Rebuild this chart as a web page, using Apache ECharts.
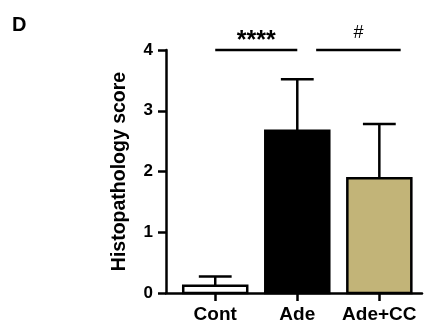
<!DOCTYPE html>
<html>
<head>
<meta charset="utf-8">
<script src="https://cdn.jsdelivr.net/npm/echarts@6/dist/echarts.min.js"></script>
<style>
html,body{margin:0;padding:0;background:#fff;}
#chart{width:424px;height:324px;}
</style>
</head>
<body>
<div id="chart"></div>
<script>
// ---- data ----
var categories = ['Cont', 'Ade', 'Ade+CC'];
var meanScore = [0.12, 2.67, 1.89];
var errorUpper = [0.27, 3.52, 2.78];
var yTicks = [0, 1, 2, 3, 4];
var sigLabels = ['****', '#'];
var sigStart = [0, 1.23];
var sigEnd = [1, 2.26];
var sigLevel = [4, 4];

// ---- styles ----
var FONT = "'Liberation Sans', Arial, Helvetica, sans-serif";
var barFills = ['#ffffff', '#000000', '#c2b478'];
var LW = 2.5;

var catIdx = categories.map(function (c, i) { return i; });
var barData = catIdx.map(function (i) { return [i, meanScore[i]]; });
var errData = catIdx.map(function (i) { return [i, meanScore[i], errorUpper[i]]; });
var sigData = sigLabels.map(function (l, i) { return [sigStart[i], sigEnd[i], sigLevel[i], i]; });

var chart = echarts.init(document.getElementById('chart'), null, {renderer: 'canvas'});
chart.setOption({
  animation: false,
  backgroundColor: '#ffffff',
  title: {
    text: 'D', left: 12, top: 15, padding: 0,
    textStyle: {fontFamily: FONT, fontWeight: 'bold', fontSize: 20, color: '#000'}
  },
  grid: {left: 166, right: 2, top: 50, bottom: 31, containLabel: false},
  xAxis: {
    type: 'value', min: -0.6, max: 2.52,
    axisLine: {show: true, onZero: false, lineStyle: {color: '#000', width: LW}},
    axisTick: {show: true, length: 8, lineStyle: {color: '#000', width: LW}, customValues: catIdx},
    axisLabel: {
      customValues: catIdx, margin: 12,
      fontFamily: FONT, fontWeight: 'bold', fontSize: 19, color: '#000',
      formatter: function (v) { return categories[Math.round(v)] || ''; }
    },
    splitLine: {show: false}
  },
  yAxis: {
    type: 'value', min: yTicks[0], max: yTicks[yTicks.length - 1], interval: 1,
    name: 'Histopathology score', nameLocation: 'middle', nameGap: 36,
    nameTextStyle: {fontFamily: FONT, fontWeight: 'bold', fontSize: 19.5, color: '#000'},
    axisLine: {show: true, onZero: false, lineStyle: {color: '#000', width: LW}},
    axisTick: {show: true, length: 8, lineStyle: {color: '#000', width: LW}},
    axisLabel: {margin: 13, fontFamily: FONT, fontWeight: 'bold', fontSize: 17, color: '#000'},
    splitLine: {show: false}
  },
  series: [
    {
      type: 'custom', name: 'bars', z: 2,
      data: barData,
      renderItem: function (params, api) {
        var x = api.value(0), v = api.value(1);
        var w = api.size([0.78, 0])[0];
        var p0 = api.coord([x, 0]);
        var p1 = api.coord([x, v]);
        return {
          type: 'rect',
          shape: {x: p0[0] - w / 2, y: p1[1], width: w, height: p0[1] - p1[1]},
          style: {fill: barFills[params.dataIndex], stroke: '#000', lineWidth: LW}
        };
      }
    },
    {
      type: 'custom', name: 'error', z: 3,
      data: errData,
      renderItem: function (params, api) {
        var x = api.value(0), m = api.value(1), u = api.value(2);
        var half = api.size([0.2, 0])[0];
        var pm = api.coord([x, m]);
        var pu = api.coord([x, u]);
        return {
          type: 'group',
          children: [
            {type: 'line', shape: {x1: pm[0], y1: pm[1], x2: pu[0], y2: pu[1]}, style: {stroke: '#000', lineWidth: LW}},
            {type: 'line', shape: {x1: pu[0] - half, y1: pu[1], x2: pu[0] + half, y2: pu[1]}, style: {stroke: '#000', lineWidth: LW}}
          ]
        };
      }
    },
    {
      type: 'custom', name: 'sig', z: 4, clip: false,
      data: sigData,
      renderItem: function (params, api) {
        var a = api.coord([api.value(0), api.value(2)]);
        var b = api.coord([api.value(1), api.value(2)]);
        var label = sigLabels[params.dataIndex];
        var isStar = label.indexOf('*') >= 0;
        return {
          type: 'group',
          children: [
            {type: 'line', shape: {x1: a[0], y1: a[1], x2: b[0], y2: b[1]}, style: {stroke: '#000', lineWidth: LW}},
            {type: 'text', style: {
              x: (a[0] + b[0]) / 2, y: a[1] - (isStar ? 9 : 17),
              text: label, align: 'center', verticalAlign: 'middle',
              fontFamily: FONT, fontWeight: isStar ? 'bold' : 'normal',
              fontSize: isStar ? 25 : 18, fill: '#000'
            }}
          ]
        };
      }
    }
  ]
});
</script>
</body>
</html>
